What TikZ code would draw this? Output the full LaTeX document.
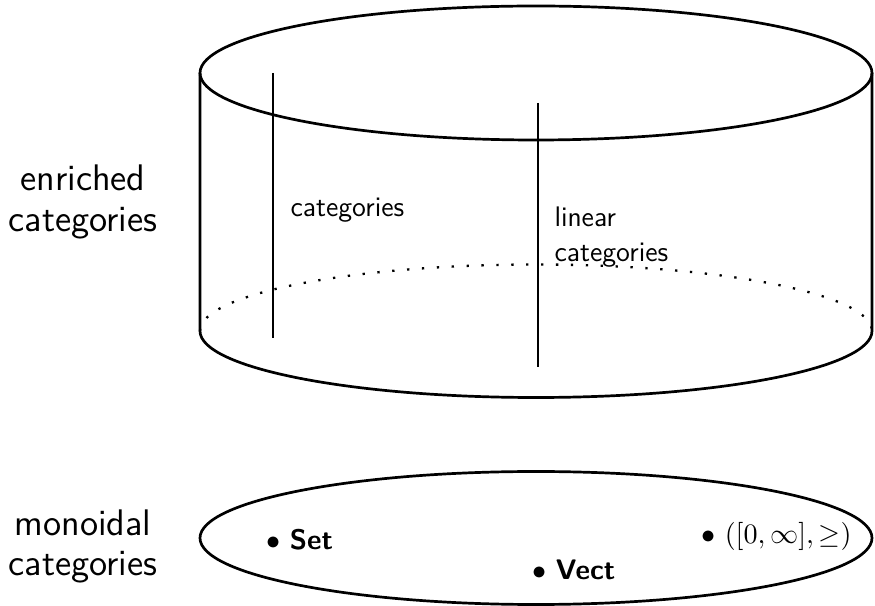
\documentclass[tikz,border=0pt]{standalone}
\usepackage{fontspec}
\begin{document}
\begin{tikzpicture}[x=0.3891pt,y=-0.3891pt,
  outline/.style={line width=1.05pt},
  divider/.style={line width=0.7pt},
  backrim/.style={line width=0.9pt, dash pattern=on 0.9pt off 4.9pt},
  biglabel/.style={font=\sffamily\fontsize{14.4}{15.6}\selectfont, align=center, inner sep=0pt},
  smalllabel/.style={font=\sffamily\fontsize{11}{13.6}\selectfont, align=left, inner sep=0pt},
  member/.style={font=\sffamily\fontsize{11}{13.6}\selectfont, anchor=base west, inner sep=0pt}]
\useasboundingbox (0,0) rectangle (875,606);

% cylinder of enriched categories: lid, walls, front rim and hidden back rim
\draw[outline] (536,73) ellipse [x radius=336, y radius=67];
\draw[outline] (200,73) -- (200,331)
  arc [start angle=180, end angle=0, x radius=336, y radius=66.5] -- (872,73);
\draw[backrim] (200,331) arc [start angle=180, end angle=360, x radius=336, y radius=66.5];

% fibres over particular bases
\draw[divider] (273,73) -- (273,338);
\draw[divider] (538,103) -- (538,367);

\node[smalllabel, anchor=base west] (cat) at (290,217) {categories};
\node[smalllabel, anchor=north west] (lin) at (554,206) {linear\\categories};

% base of monoidal categories
\draw[outline] (536,538) ellipse [x radius=336, y radius=66.5];
\node[member] (set) at (266,550) {$\bullet$ \textbf{Set}};
\node[member] (vect) at (532,580) {$\bullet$ \textbf{Vect}};
\node[member] (lawv) at (701,544) {$\bullet$ $([0,\infty],\geq)$};

% side labels
\node[biglabel] (enr) at (83,202) {enriched\\categories};
\node[biglabel] (mon) at (83,546) {monoidal\\categories};
\end{tikzpicture}
\end{document}
